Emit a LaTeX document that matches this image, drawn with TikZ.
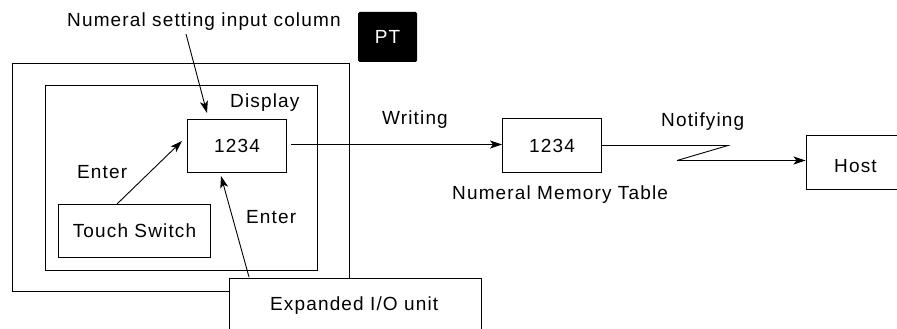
\documentclass[tikz,border=0pt]{standalone}
\usepackage{fontspec}
\setmainfont{Liberation Sans}[LetterSpace=6]
\usetikzlibrary{arrows.meta}
\begin{document}
\begin{tikzpicture}[x=1pt,y=-1pt,
  every node/.style={font=\fontsize{19}{22}\selectfont, inner sep=0pt},
  box/.style={draw, line width=0.9pt, fill=white},
  lbl/.style={anchor=base west},
  arr/.style={-{Stealth[length=12pt,width=8pt,inset=3pt]}, line width=0.9pt},
  ln/.style={line width=0.9pt}]
\useasboundingbox (0,0) rectangle (897,329);
\clip (0,0) rectangle (897,329);
% PT frame
\draw[ln] (12.5,63.5) rectangle (349.5,291.5);
\node[fill=black, rounded corners=1.5pt, minimum width=59pt, minimum height=50pt, text=white] (pt) at (387.5,37) {PT};
% display frame
\draw[ln] (45.5,85.5) rectangle (317.5,270.5);
\node[lbl] (displ) at (230,107) {Display};
% 1234 input
\node[box, minimum width=99pt, minimum height=53pt] (inp) at (237,146) {1234};
% touch switch
\node[box, minimum width=152pt, minimum height=53pt] (ts) at (134.5,231) {Touch Switch};
% expanded IO
\node[box, anchor=north west, minimum width=252pt, minimum height=70pt] (io) at (228.5,277.5) {};
\node[lbl] (iotxt) at (270,310) {Expanded I/O unit};
% memory table
\node[box, minimum width=99pt, minimum height=54pt] (mem) at (552,145.5) {1234};
\node[lbl] (memlbl) at (452,199) {Numeral Memory Table};
% host
\node[box, anchor=north west, minimum width=110pt, minimum height=54pt] (host) at (805.5,134.5) {};
\node[lbl] (hosttxt) at (834,172) {Host};
% labels
\node[lbl] (nsic) at (67,27) {Numeral setting input column};
\node[lbl] (ent1) at (77,178) {Enter};
\node[lbl] (ent2) at (246,223) {Enter};
\node[lbl] (wr) at (382,124) {Writing};
\node[lbl] (nt) at (661,126) {Notifying};
% coordinates
\coordinate (a1s) at (186,34);
\coordinate (a1e) at (207,113);
\coordinate (a2s) at (117,204);
\coordinate (a2e) at (182,141);
\coordinate (a3s) at (249,277);
\coordinate (a3e) at (221,176);
\coordinate (wrs) at (291,144.5);
\coordinate (z1) at (728,145.5);
\coordinate (z2) at (677,160.5);
% connectors
\draw[arr] (a1s) -- (a1e);
\draw[arr] (a2s) -- (a2e);
\draw[arr] (a3s) -- (a3e);
\draw[arr] (wrs) -- (wrs -| mem.west);
\draw[ln] (mem.east |- z1) -- (z1) -- (z2);
\draw[arr] (z2) -- (z2 -| host.west);
\end{tikzpicture}
\end{document}
